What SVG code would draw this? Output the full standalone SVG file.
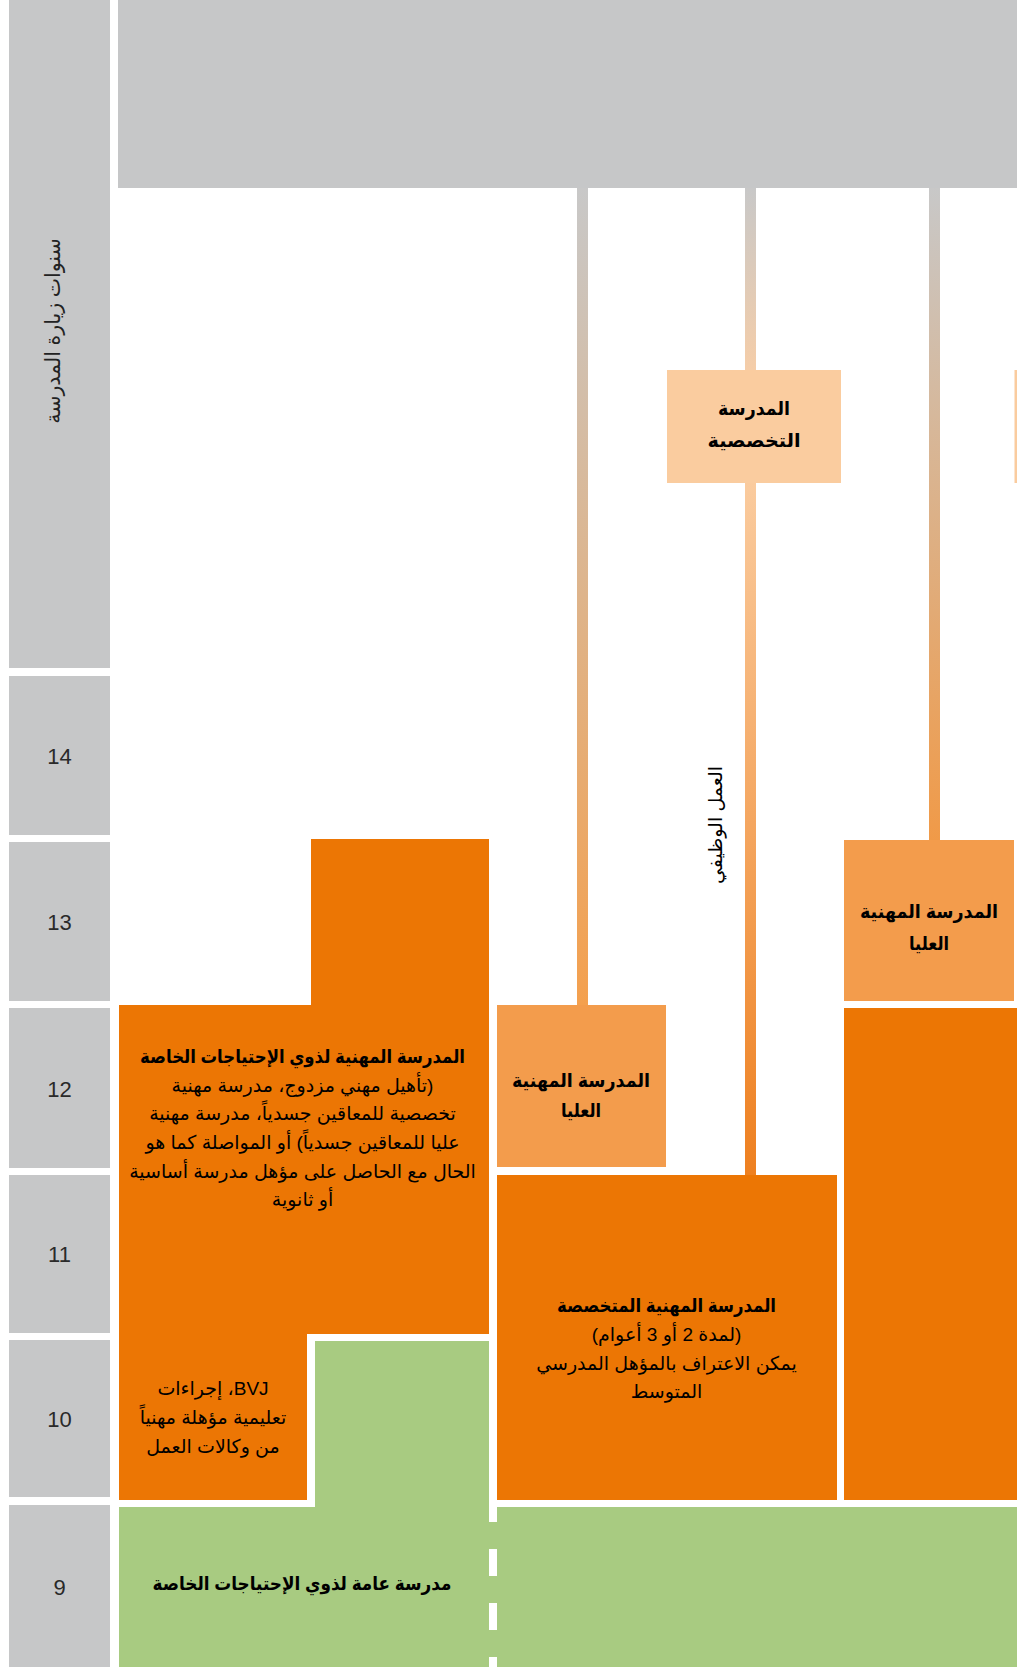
<svg xmlns="http://www.w3.org/2000/svg" width="1017" height="1667" viewBox="0 0 1017 1667">
<style>
.gray{fill:#C6C7C8}
.dk{fill:#EC7604}
.md{fill:#F39C4C}
.pc{fill:#FACC9F}
.gr{fill:#A8CB81}
.num{font-family:"Liberation Sans","DejaVu Sans",sans-serif;font-size:22px;fill:#2a2a2a;text-anchor:middle}
.ar{font-family:"Liberation Sans","DejaVu Sans",sans-serif;font-size:19px;fill:#000;text-anchor:middle;direction:rtl}
.b{font-weight:bold}
</style>
<defs>
<linearGradient id="g1" gradientUnits="userSpaceOnUse" x1="0" y1="188" x2="0" y2="1005"><stop offset="0" stop-color="#C8C8C8"/><stop offset="1" stop-color="#F4A04E"/></linearGradient>
<linearGradient id="g2a" gradientUnits="userSpaceOnUse" x1="0" y1="188" x2="0" y2="370"><stop offset="0" stop-color="#C8C8C8"/><stop offset="1" stop-color="#F5CDA8"/></linearGradient>
<linearGradient id="g2b" gradientUnits="userSpaceOnUse" x1="0" y1="483" x2="0" y2="1175"><stop offset="0" stop-color="#FACB9E"/><stop offset="1" stop-color="#EE8020"/></linearGradient>
<linearGradient id="g3" gradientUnits="userSpaceOnUse" x1="0" y1="188" x2="0" y2="840"><stop offset="0" stop-color="#C8C8C8"/><stop offset="1" stop-color="#F09A48"/></linearGradient>
</defs>

<g id="header"><rect class="gray" x="118" y="0" width="899" height="188"/></g>

<g id="years">
<rect class="gray" x="9" y="0" width="101" height="668"/>
<text class="ar" transform="translate(60,331) rotate(-90)" style="fill:#222;font-size:20.5px">سنوات زيارة المدرسة</text>
<rect class="gray" x="9" y="676" width="101" height="159"/>
<text class="num" x="59.5" y="764">14</text>
<rect class="gray" x="9" y="842" width="101" height="159"/>
<text class="num" x="59.5" y="930">13</text>
<rect class="gray" x="9" y="1008" width="101" height="160"/>
<text class="num" x="59.5" y="1097">12</text>
<rect class="gray" x="9" y="1175" width="101" height="158"/>
<text class="num" x="59.5" y="1262">11</text>
<rect class="gray" x="9" y="1340" width="101" height="157"/>
<text class="num" x="59.5" y="1427">10</text>
<rect class="gray" x="9" y="1505" width="101" height="162"/>
<text class="num" x="59.5" y="1595">9</text>
</g>

<g id="connectors">
<rect x="577" y="188" width="11" height="818" fill="url(#g1)"/>
<rect x="745" y="188" width="11" height="183" fill="url(#g2a)"/>
<rect x="745" y="482" width="11" height="694" fill="url(#g2b)"/>
<rect x="929" y="188" width="11" height="652" fill="url(#g3)"/>
</g>

<g id="fachschule">
<rect class="pc" x="667" y="370" width="174" height="113"/>
<text class="ar b" x="754" y="415" textLength="72" lengthAdjust="spacingAndGlyphs">المدرسة</text>
<text class="ar b" x="754" y="447" textLength="93" lengthAdjust="spacingAndGlyphs">التخصصية</text>
</g>
<g id="fachschule-right"><rect class="pc" x="1014.5" y="370" width="3" height="113"/></g>

<g id="job-label">
<text class="ar" transform="translate(722,825) rotate(-90)">العمل الوظيفي</text>
</g>

<g id="bos-left">
<rect class="md" x="497" y="1005" width="169" height="162"/>
<text class="ar b" x="581" y="1087" textLength="138" lengthAdjust="spacingAndGlyphs">المدرسة المهنية</text>
<text class="ar b" x="581" y="1117" textLength="40" lengthAdjust="spacingAndGlyphs">العليا</text>
</g>

<g id="bos-right">
<rect class="md" x="844" y="840" width="170" height="161"/>
<text class="ar b" x="929" y="918" textLength="138" lengthAdjust="spacingAndGlyphs">المدرسة المهنية</text>
<text class="ar b" x="929" y="950" textLength="40" lengthAdjust="spacingAndGlyphs">العليا</text>
</g>

<g id="right-orange"><rect class="dk" x="844" y="1008" width="173" height="492"/></g>

<g id="bfs">
<rect class="dk" x="497" y="1175" width="340" height="325"/>
<text class="ar b" x="666.5" y="1312" textLength="219" lengthAdjust="spacingAndGlyphs">المدرسة المهنية المتخصصة</text>
<text class="ar" x="666.5" y="1341">(لمدة 2 أو 3 أعوام)</text>
<text class="ar" x="666.5" y="1370">يمكن الاعتراف بالمؤهل المدرسي</text>
<text class="ar" x="666.5" y="1398">المتوسط</text>
</g>

<g id="special-vocational">
<polygon class="dk" points="311,839 489,839 489,1334 307,1334 307,1500 119,1500 119,1005 311,1005"/>
<text class="ar b" x="302.5" y="1063" textLength="325" lengthAdjust="spacingAndGlyphs">المدرسة المهنية لذوي الإحتياجات الخاصة</text>
<text class="ar" x="302.5" y="1092">(تأهيل مهني مزدوج، مدرسة مهنية</text>
<text class="ar" x="302.5" y="1120">تخصصية للمعاقين جسدياً، مدرسة مهنية</text>
<text class="ar" x="302.5" y="1149">عليا للمعاقين جسدياً) أو المواصلة كما هو</text>
<text class="ar" x="302.5" y="1178">الحال مع الحاصل على مؤهل مدرسة أساسية</text>
<text class="ar" x="302.5" y="1206">أو ثانوية</text>
</g>

<g id="bvj">
<text class="ar" x="213" y="1395">BVJ، إجراءات</text>
<text class="ar" x="213" y="1424">تعليمية مؤهلة مهنياً</text>
<text class="ar" x="213" y="1453">من وكالات العمل</text>
</g>

<g id="general-school">
<polygon class="gr" points="315,1341 489,1341 489,1507 1017,1507 1017,1667 119,1667 119,1507 315,1507"/>
<rect class="gr" x="489" y="1507" width="8" height="160"/>
<g fill="#fff">
<rect x="489" y="1507" width="8" height="15"/>
<rect x="489" y="1549" width="8" height="27"/>
<rect x="489" y="1603" width="8" height="27"/>
<rect x="489" y="1657" width="8" height="10"/>
</g>
<text class="ar b" x="302" y="1590" textLength="299" lengthAdjust="spacingAndGlyphs">مدرسة عامة لذوي الإحتياجات الخاصة</text>
</g>
</svg>
